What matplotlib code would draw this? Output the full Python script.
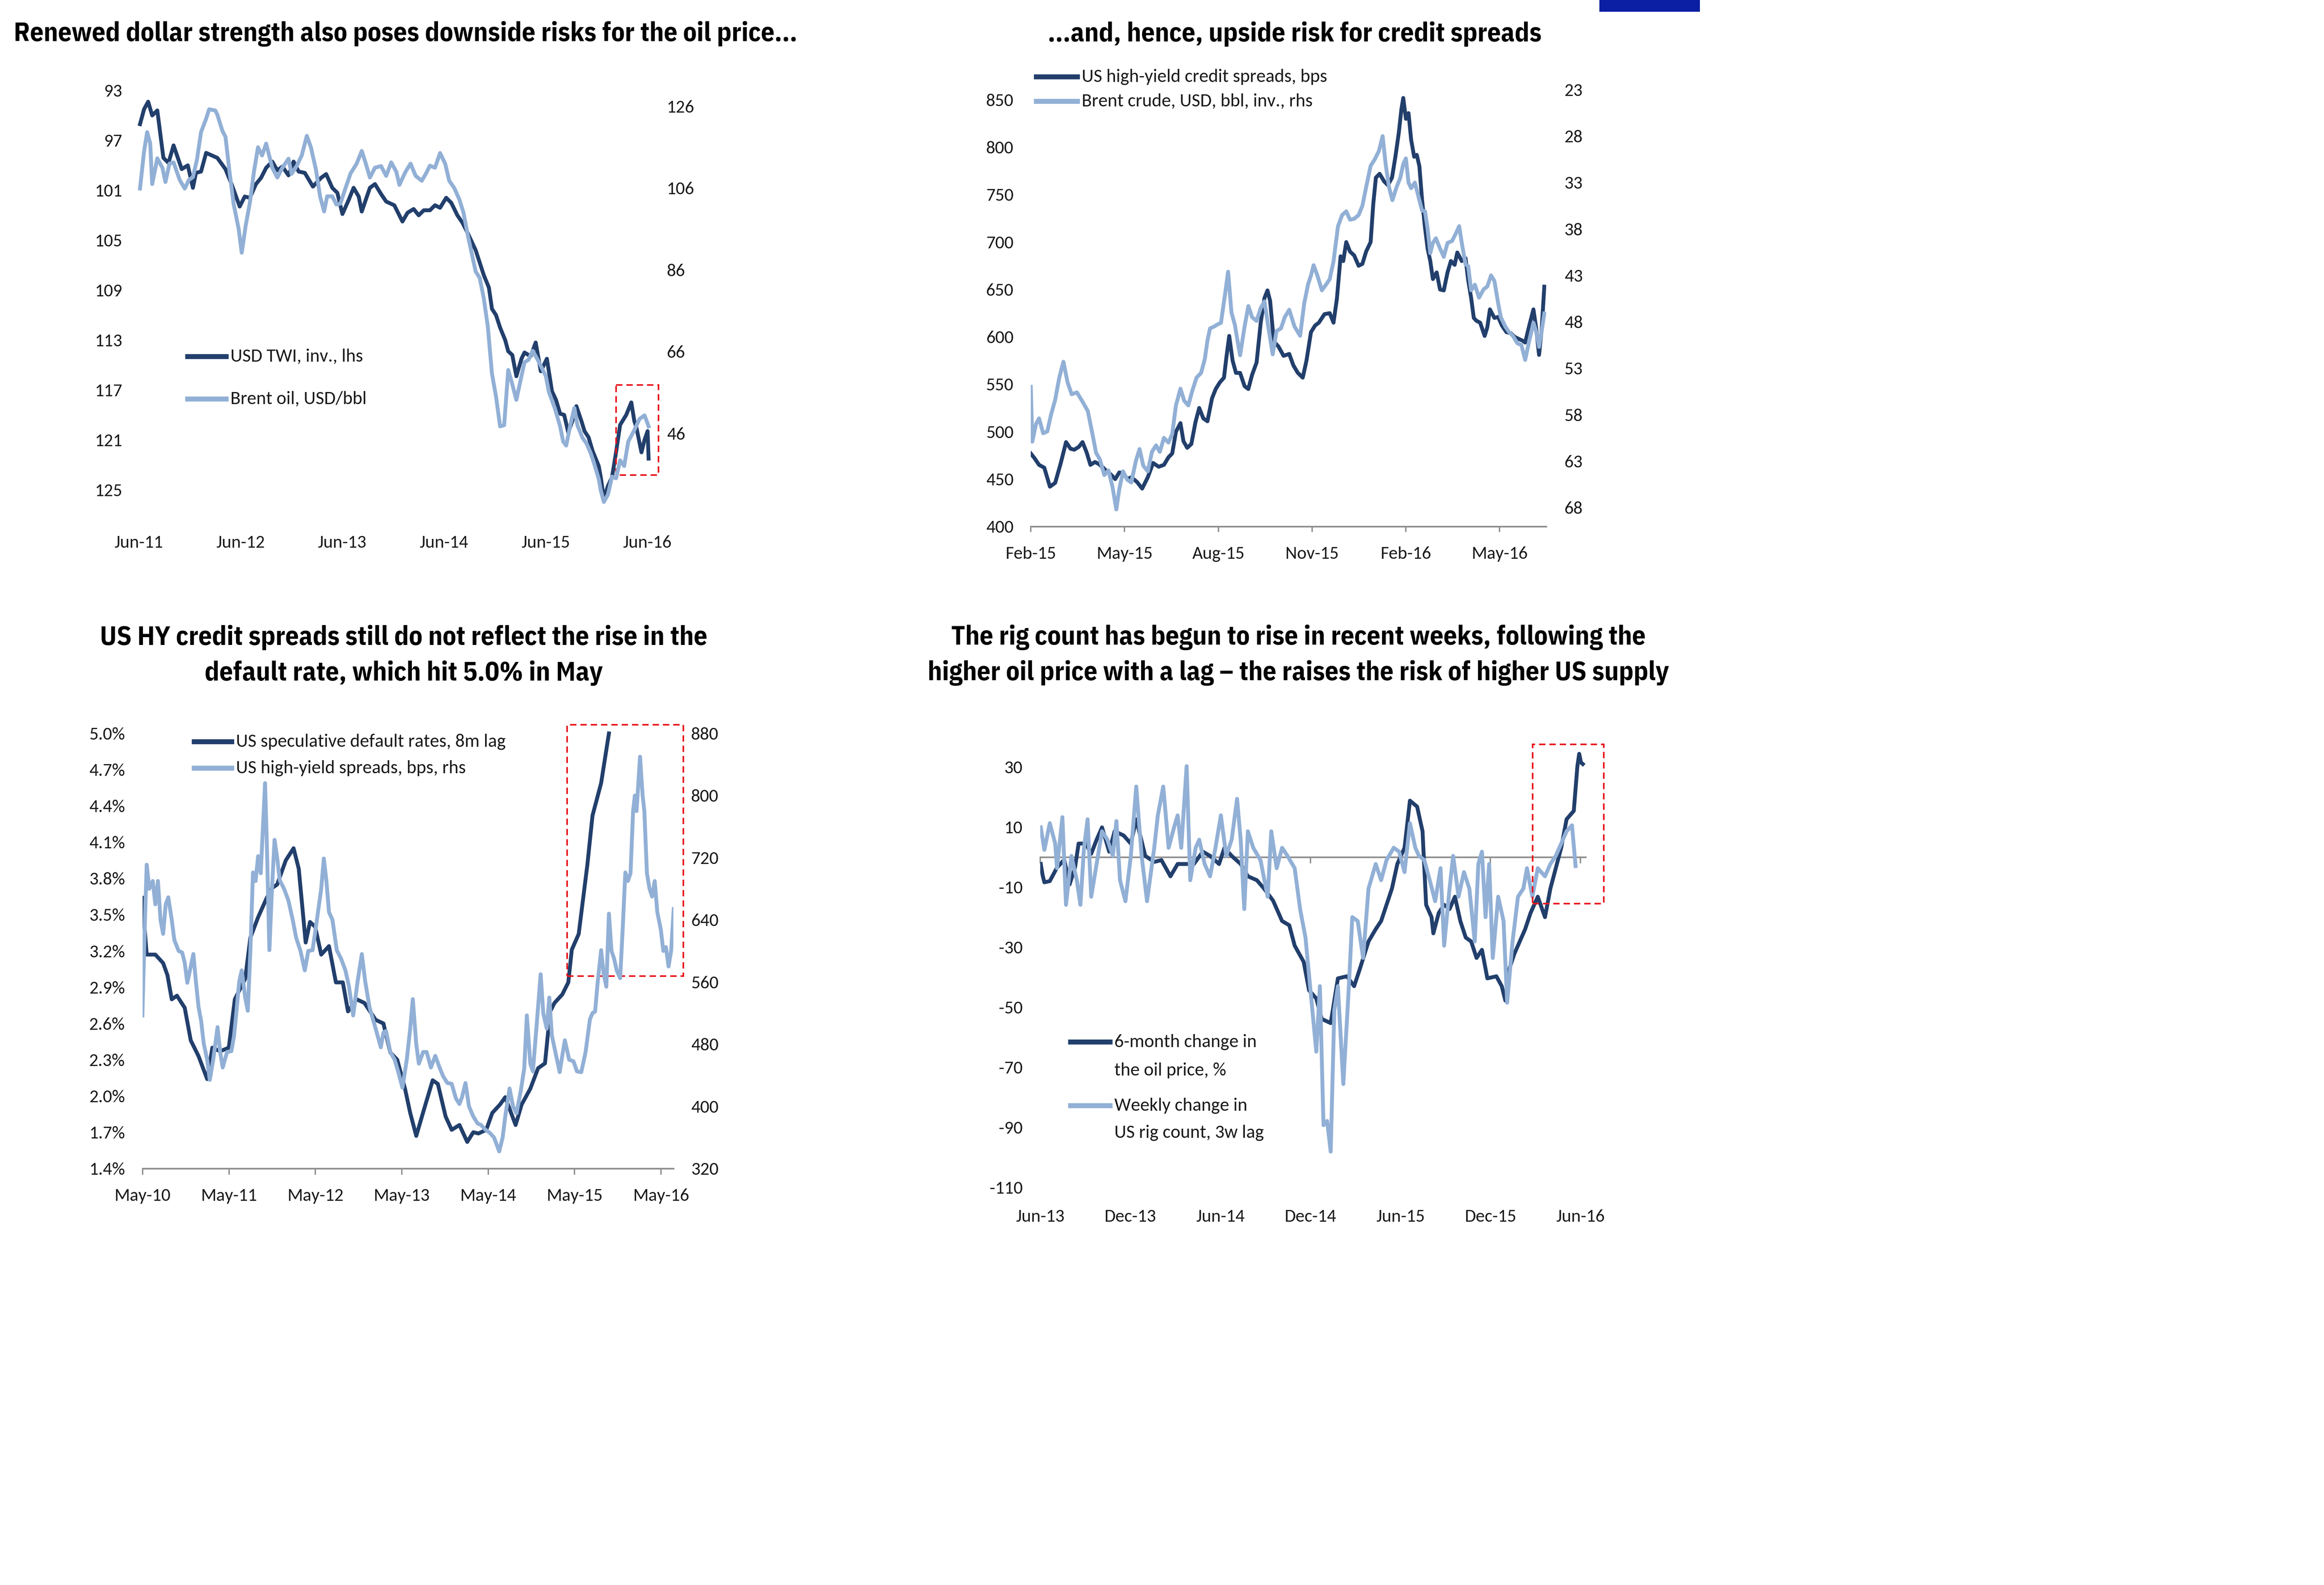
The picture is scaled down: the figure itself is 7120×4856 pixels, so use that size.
"""Four-panel oil / dollar / credit chart rebuilt with matplotlib."""
import matplotlib
matplotlib.use("Agg")
import matplotlib.pyplot as plt
from matplotlib import font_manager as fm
from matplotlib.patches import Rectangle
from matplotlib.lines import Line2D
from matplotlib.ticker import FixedLocator, FixedFormatter

# ---------------------------------------------------------------- data
# time axis is in decimal years

# panel 1: USD TWI (inverted, lhs) and Brent (rhs)
twi_t = [2011.43, 2011.47, 2011.51, 2011.55, 2011.60, 2011.66, 2011.71, 2011.76, 2011.84, 2011.90,
         2011.95, 2011.98, 2012.03, 2012.08, 2012.19, 2012.27, 2012.33, 2012.41, 2012.46, 2012.51,
         2012.57, 2012.62, 2012.67, 2012.73, 2012.78, 2012.83, 2012.89, 2012.94, 2012.99, 2013.05,
         2013.13, 2013.21, 2013.26, 2013.32, 2013.37, 2013.42, 2013.48, 2013.53, 2013.58, 2013.61,
         2013.69, 2013.74, 2013.80, 2013.85, 2013.93, 2014.01, 2014.06, 2014.12, 2014.17, 2014.22,
         2014.28, 2014.33, 2014.38, 2014.44, 2014.49, 2014.55, 2014.60, 2014.65, 2014.73, 2014.77,
         2014.81, 2014.86, 2014.89, 2014.93, 2014.97, 2015.02, 2015.05, 2015.09, 2015.13, 2015.18,
         2015.21, 2015.27, 2015.32, 2015.37, 2015.43, 2015.48, 2015.52, 2015.56, 2015.60, 2015.64,
         2015.68, 2015.72, 2015.77, 2015.80, 2015.84, 2015.88, 2015.94, 2015.96, 2015.99, 2016.03,
         2016.07, 2016.11, 2016.15, 2016.21, 2016.26, 2016.29, 2016.31, 2016.36, 2016.39, 2016.42,
         2016.43]
twi_v = [95.7, 94.5, 93.9, 95.0, 94.6, 98.4, 98.8, 97.4, 99.3, 99.0,
         100.8, 99.6, 99.5, 98.0, 98.4, 99.3, 100.5, 102.3, 101.5, 101.6,
         100.5, 100.0, 99.2, 98.7, 99.4, 99.1, 99.8, 98.7, 99.5, 99.6,
         100.7, 100.0, 99.7, 100.8, 101.2, 102.9, 101.8, 100.8, 101.5, 102.7,
         100.8, 100.5, 101.3, 101.9, 102.2, 103.5, 102.8, 102.5, 103.0, 102.6,
         102.6, 102.2, 102.4, 101.6, 102.0, 103.0, 103.6, 104.4, 105.8, 106.8,
         107.8, 108.8, 110.5, 111.0, 112.0, 113.0, 113.9, 114.2, 115.9, 114.5,
         114.0, 114.3, 113.2, 115.5, 114.5, 117.1, 117.8, 118.9, 119.0, 120.4,
         119.5, 118.3, 119.5, 120.3, 120.8, 121.9, 123.1, 124.0, 125.7, 124.7,
         124.0, 122.0, 119.8, 119.0, 118.0, 119.5, 120.0, 122.0, 121.0, 120.3,
         122.5]

brent1_t = [2011.43, 2011.47, 2011.50, 2011.53, 2011.55, 2011.60, 2011.65, 2011.68, 2011.72, 2011.76,
            2011.82, 2011.87, 2011.91, 2011.95, 2011.99, 2012.03, 2012.08, 2012.11, 2012.17, 2012.19,
            2012.24, 2012.27, 2012.31, 2012.35, 2012.40, 2012.43, 2012.47, 2012.51, 2012.55, 2012.59,
            2012.63, 2012.67, 2012.73, 2012.78, 2012.83, 2012.89, 2012.92, 2012.97, 2013.02, 2013.07,
            2013.11, 2013.16, 2013.20, 2013.24, 2013.27, 2013.32, 2013.36, 2013.40, 2013.45, 2013.50,
            2013.56, 2013.61, 2013.65, 2013.69, 2013.74, 2013.80, 2013.85, 2013.90, 2013.95, 2013.98,
            2014.04, 2014.09, 2014.14, 2014.20, 2014.24, 2014.28, 2014.33, 2014.38, 2014.43, 2014.47,
            2014.52, 2014.57, 2014.61, 2014.65, 2014.70, 2014.73, 2014.77, 2014.81, 2014.85, 2014.89,
            2014.93, 2014.97, 2015.01, 2015.05, 2015.09, 2015.13, 2015.18, 2015.21, 2015.25, 2015.29,
            2015.34, 2015.37, 2015.42, 2015.45, 2015.51, 2015.56, 2015.59, 2015.62, 2015.66, 2015.70,
            2015.73, 2015.78, 2015.82, 2015.86, 2015.89, 2015.94, 2015.96, 2015.99, 2016.03, 2016.07,
            2016.11, 2016.15, 2016.19, 2016.23, 2016.29, 2016.34, 2016.39, 2016.43]
brent1_v = [105.9, 115.0, 119.7, 117.0, 107.0, 113.3, 111.0, 107.5, 112.0, 112.3,
            108.0, 105.9, 108.0, 108.7, 113.0, 119.7, 123.0, 125.3, 125.0, 124.0,
            120.0, 118.6, 110.0, 102.2, 96.0, 90.2, 97.0, 102.4, 110.0, 116.0,
            114.0, 116.9, 111.0, 108.6, 111.0, 113.2, 109.5, 111.4, 114.0, 118.8,
            116.0, 110.5, 104.0, 100.3, 104.0, 104.0, 102.0, 102.2, 106.0, 109.6,
            112.0, 115.1, 112.0, 108.6, 111.0, 111.4, 109.0, 112.3, 110.0, 106.8,
            110.0, 112.0, 109.0, 107.8, 109.5, 111.5, 111.0, 114.6, 112.0, 107.8,
            106.0, 103.2, 100.0, 94.8, 89.0, 85.6, 84.0, 79.0, 72.0, 60.6,
            55.0, 47.7, 48.0, 61.5, 58.0, 54.2, 60.0, 63.4, 64.0, 66.2,
            64.0, 62.5, 60.0, 56.1, 52.0, 47.7, 44.0, 43.0, 48.0, 52.2,
            48.0, 44.9, 43.5, 41.2, 39.0, 34.8, 32.0, 29.2, 31.0, 35.4,
            35.0, 39.4, 38.0, 44.0, 46.8, 49.5, 50.4, 47.7]

# panel 2: US HY spreads (lhs) and Brent inverted (rhs)
hy2_t = [2015.083, 2015.093, 2015.105, 2015.119, 2015.134, 2015.148, 2015.163, 2015.177, 2015.189, 2015.199,
         2015.211, 2015.221, 2015.232, 2015.242, 2015.254, 2015.264, 2015.276, 2015.286, 2015.296, 2015.308,
         2015.319, 2015.329, 2015.341, 2015.351, 2015.366, 2015.380, 2015.395, 2015.409, 2015.424, 2015.438,
         2015.450, 2015.460, 2015.470, 2015.482, 2015.490, 2015.500, 2015.511, 2015.522, 2015.532, 2015.543,
         2015.554, 2015.566, 2015.576, 2015.587, 2015.598, 2015.605, 2015.612, 2015.621, 2015.630, 2015.641,
         2015.653, 2015.663, 2015.673, 2015.685, 2015.696, 2015.706, 2015.714, 2015.721, 2015.731, 2015.743,
         2015.757, 2015.772, 2015.783, 2015.795, 2015.808, 2015.818, 2015.830, 2015.841, 2015.851, 2015.866,
         2015.880, 2015.890, 2015.899, 2015.909, 2015.916, 2015.924, 2015.934, 2015.945, 2015.957, 2015.967,
         2015.977, 2015.989, 2015.996, 2016.003, 2016.013, 2016.025, 2016.035, 2016.046, 2016.055, 2016.064,
         2016.071, 2016.076, 2016.083, 2016.090, 2016.097, 2016.105, 2016.112, 2016.119, 2016.126, 2016.134,
         2016.141, 2016.148, 2016.155, 2016.165, 2016.174, 2016.184, 2016.194, 2016.203, 2016.213, 2016.220,
         2016.232, 2016.242, 2016.249, 2016.257, 2016.264, 2016.271, 2016.281, 2016.293, 2016.300, 2016.307,
         2016.319, 2016.329, 2016.339, 2016.351, 2016.362, 2016.373, 2016.383, 2016.394, 2016.401, 2016.412,
         2016.423, 2016.430, 2016.438, 2016.445, 2016.452]
hy2_v = [477, 472, 465, 462, 442, 446, 467, 489, 482, 481,
         484, 489, 478, 465, 468, 466, 462, 458, 455, 450,
         457, 456, 450, 452, 447, 440, 452, 467, 463, 465,
         473, 477, 500, 509, 490, 483, 487, 510, 525, 514,
         511, 535, 545, 552, 557, 580, 601, 575, 562, 562,
         548, 545, 560, 573, 615, 641, 649, 638, 595, 590,
         580, 582, 570, 562, 557, 575, 605, 612, 615, 624,
         625, 615, 640, 685, 680, 700, 690, 686, 675, 677,
         690, 700, 740, 768, 772, 764, 760, 768, 790, 815,
         840, 852, 830, 836, 808, 790, 792, 780, 745, 715,
         693, 680, 661, 668, 650, 649, 668, 680, 676, 689,
         680, 683, 660, 641, 620, 617, 615, 601, 610, 629,
         620, 621, 612, 605, 604, 600, 598, 596, 594, 612,
         629, 610, 581, 608, 653]

brent2_t = [2015.083, 2015.087, 2015.097, 2015.105, 2015.116, 2015.127, 2015.137, 2015.148, 2015.159, 2015.170,
            2015.181, 2015.192, 2015.206, 2015.221, 2015.235, 2015.247, 2015.257, 2015.267, 2015.279, 2015.290,
            2015.301, 2015.311, 2015.319, 2015.329, 2015.340, 2015.351, 2015.363, 2015.373, 2015.383, 2015.395,
            2015.406, 2015.417, 2015.427, 2015.438, 2015.450, 2015.460, 2015.470, 2015.482, 2015.492, 2015.503,
            2015.513, 2015.525, 2015.537, 2015.547, 2015.554, 2015.561, 2015.572, 2015.580, 2015.590, 2015.601,
            2015.609, 2015.618, 2015.627, 2015.634, 2015.641, 2015.653, 2015.663, 2015.673, 2015.685, 2015.696,
            2015.706, 2015.716, 2015.728, 2015.738, 2015.750, 2015.760, 2015.772, 2015.786, 2015.801, 2015.812,
            2015.822, 2015.830, 2015.837, 2015.847, 2015.859, 2015.870, 2015.880, 2015.890, 2015.902, 2015.913,
            2015.924, 2015.934, 2015.945, 2015.957, 2015.967, 2015.977, 2015.989, 2016.000, 2016.011, 2016.021,
            2016.029, 2016.038, 2016.047, 2016.058, 2016.068, 2016.076, 2016.083, 2016.090, 2016.097, 2016.107,
            2016.119, 2016.126, 2016.134, 2016.141, 2016.148, 2016.155, 2016.163, 2016.173, 2016.184, 2016.194,
            2016.206, 2016.216, 2016.225, 2016.232, 2016.242, 2016.249, 2016.257, 2016.267, 2016.278, 2016.290,
            2016.300, 2016.310, 2016.319, 2016.329, 2016.336, 2016.348, 2016.358, 2016.368, 2016.380, 2016.391,
            2016.401, 2016.412, 2016.423, 2016.430, 2016.438, 2016.445, 2016.452]
brent2_v = [55.0, 60.9, 59.0, 58.4, 60.0, 59.8, 58.0, 56.4, 54.0, 52.3,
            54.5, 55.8, 55.6, 56.6, 57.6, 60.0, 62.1, 62.8, 64.5, 64.0,
            65.8, 68.2, 66.0, 64.1, 65.0, 65.3, 63.0, 61.7, 63.5, 64.1,
            62.0, 61.3, 62.0, 60.5, 61.0, 60.1, 57.0, 55.2, 56.5, 57.0,
            55.5, 54.0, 53.5, 52.0, 50.0, 48.7, 48.5, 48.3, 48.1, 45.0,
            42.6, 47.0, 48.3, 50.0, 51.6, 48.5, 46.3, 47.5, 47.9, 46.5,
            45.8, 48.5, 51.5, 49.0, 48.7, 47.5, 46.7, 48.5, 49.5, 46.0,
            44.0, 43.0, 41.9, 43.0, 44.6, 44.0, 43.4, 41.5, 37.7, 36.5,
            36.1, 37.0, 36.9, 36.5, 35.5, 33.5, 31.2, 30.5, 29.6, 28.0,
            31.0, 33.5, 34.9, 33.5, 32.5, 31.0, 30.4, 33.0, 33.6, 33.0,
            34.9, 36.0, 36.1, 38.0, 40.6, 39.5, 39.0, 40.0, 41.0, 39.5,
            39.3, 38.5, 37.7, 39.5, 41.8, 42.0, 44.6, 44.0, 45.4, 44.5,
            44.2, 43.0, 43.6, 46.0, 47.5, 48.5, 49.1, 49.5, 50.3, 50.5,
            52.1, 50.0, 48.1, 49.0, 50.7, 49.0, 47.1]

# panel 3: US speculative default rate, 8m lag (lhs, %) and US HY spreads (rhs, bps)
dflt_t = [2010.33, 2010.35, 2010.38, 2010.48, 2010.57, 2010.62, 2010.67, 2010.73, 2010.82, 2010.89,
          2010.98, 2011.08, 2011.14, 2011.23, 2011.33, 2011.40, 2011.52, 2011.58, 2011.67, 2011.77,
          2011.83, 2011.89, 2011.99, 2012.08, 2012.14, 2012.22, 2012.27, 2012.33, 2012.40, 2012.49,
          2012.57, 2012.65, 2012.71, 2012.81, 2012.90, 2013.03, 2013.12, 2013.20, 2013.28, 2013.37,
          2013.43, 2013.50, 2013.59, 2013.69, 2013.75, 2013.84, 2013.91, 2014.00, 2014.09, 2014.16,
          2014.22, 2014.31, 2014.38, 2014.47, 2014.53, 2014.65, 2014.72, 2014.82, 2014.91, 2014.99,
          2015.05, 2015.10, 2015.19, 2015.26, 2015.30, 2015.38, 2015.48, 2015.54, 2015.64, 2015.73]
dflt_v = [3.64, 3.44, 3.17, 3.17, 3.10, 3.00, 2.80, 2.83, 2.73, 2.46,
          2.33, 2.14, 2.40, 2.37, 2.40, 2.80, 2.97, 3.31, 3.48, 3.64,
          3.72, 3.75, 3.95, 4.05, 3.88, 3.27, 3.44, 3.40, 3.17, 3.24,
          2.94, 2.94, 2.70, 2.80, 2.77, 2.63, 2.60, 2.36, 2.30, 2.06,
          1.86, 1.67, 1.89, 2.13, 2.10, 1.83, 1.72, 1.76, 1.62, 1.70,
          1.69, 1.72, 1.86, 1.93, 1.99, 1.76, 1.93, 2.06, 2.23, 2.27,
          2.70, 2.77, 2.84, 2.94, 3.21, 3.34, 3.91, 4.32, 4.59, 5.00]

hy3_t = [2010.33, 2010.36, 2010.38, 2010.41, 2010.45, 2010.48, 2010.51, 2010.54, 2010.57, 2010.60,
         2010.63, 2010.67, 2010.70, 2010.75, 2010.79, 2010.82, 2010.85, 2010.89, 2010.92, 2010.95,
         2010.98, 2011.01, 2011.04, 2011.08, 2011.11, 2011.15, 2011.20, 2011.23, 2011.26, 2011.31,
         2011.36, 2011.39, 2011.42, 2011.45, 2011.48, 2011.52, 2011.55, 2011.58, 2011.61, 2011.64,
         2011.67, 2011.70, 2011.75, 2011.77, 2011.80, 2011.83, 2011.86, 2011.89, 2011.92, 2011.97,
         2012.02, 2012.07, 2012.11, 2012.16, 2012.21, 2012.25, 2012.30, 2012.35, 2012.40, 2012.43,
         2012.46, 2012.49, 2012.53, 2012.58, 2012.63, 2012.68, 2012.72, 2012.77, 2012.82, 2012.87,
         2012.91, 2012.96, 2013.03, 2013.09, 2013.12, 2013.15, 2013.20, 2013.25, 2013.29, 2013.34,
         2013.39, 2013.43, 2013.46, 2013.50, 2013.53, 2013.58, 2013.62, 2013.67, 2013.72, 2013.77,
         2013.81, 2013.86, 2013.91, 2013.96, 2014.00, 2014.03, 2014.07, 2014.11, 2014.16, 2014.21,
         2014.25, 2014.30, 2014.35, 2014.40, 2014.46, 2014.50, 2014.53, 2014.58, 2014.62, 2014.66,
         2014.71, 2014.75, 2014.78, 2014.82, 2014.85, 2014.89, 2014.94, 2014.97, 2015.01, 2015.04,
         2015.07, 2015.11, 2015.16, 2015.19, 2015.22, 2015.27, 2015.32, 2015.36, 2015.41, 2015.46,
         2015.51, 2015.54, 2015.57, 2015.60, 2015.64, 2015.67, 2015.70, 2015.73, 2015.76, 2015.79,
         2015.82, 2015.86, 2015.89, 2015.92, 2015.95, 2015.98, 2016.01, 2016.03, 2016.05, 2016.09,
         2016.12, 2016.14, 2016.17, 2016.20, 2016.23, 2016.26, 2016.29, 2016.33, 2016.36, 2016.39,
         2016.42, 2016.45, 2016.48]
hy3_v = [517, 640, 711, 680, 690, 660, 690, 640, 622, 660,
         669, 640, 614, 600, 598, 585, 559, 580, 596, 560,
         528, 510, 481, 460, 434, 460, 502, 470, 450, 470,
         471, 490, 523, 560, 575, 540, 523, 600, 701, 690,
         722, 700, 816, 740, 601, 680, 743, 720, 691, 680,
         665, 640, 617, 600, 575, 600, 601, 640, 680, 719,
         690, 650, 640, 601, 590, 575, 555, 517, 560, 596,
         560, 527, 500, 476, 495, 497, 470, 460, 445, 424,
         460, 500, 538, 480, 455, 470, 470, 450, 465, 450,
         439, 430, 429, 410, 403, 412, 430, 400, 387, 378,
         376, 370, 366, 360, 342, 360, 387, 423, 400, 391,
         420, 449, 517, 455, 445, 500, 570, 520, 500, 540,
         491, 470, 444, 465, 485, 460, 458, 445, 444, 470,
         512, 520, 522, 560, 601, 570, 554, 648, 600, 590,
         575, 565, 630, 701, 690, 700, 780, 800, 780, 850,
         800, 780, 700, 680, 670, 690, 650, 628, 600, 605,
         580, 600, 654]

# panel 4: 6-month change in oil price (%) and weekly change in US rig count, 3w lag
oil6m_t = [2013.42, 2013.43, 2013.44, 2013.47, 2013.51, 2013.55, 2013.58, 2013.61, 2013.63, 2013.67,
           2013.70, 2013.73, 2013.76, 2013.80, 2013.83, 2013.88, 2013.92, 2013.95, 2014.00, 2014.05,
           2014.09, 2014.14, 2014.18, 2014.23, 2014.27, 2014.32, 2014.36, 2014.41, 2014.44, 2014.48,
           2014.53, 2014.57, 2014.62, 2014.66, 2014.71, 2014.76, 2014.80, 2014.83, 2014.88, 2014.91,
           2014.95, 2014.98, 2015.03, 2015.07, 2015.12, 2015.16, 2015.19, 2015.24, 2015.28, 2015.31,
           2015.34, 2015.37, 2015.40, 2015.44, 2015.47, 2015.51, 2015.54, 2015.56, 2015.59, 2015.60,
           2015.63, 2015.66, 2015.69, 2015.72, 2015.75, 2015.78, 2015.81, 2015.84, 2015.87, 2015.90,
           2015.95, 2015.98, 2016.00, 2016.02, 2016.05, 2016.08, 2016.11, 2016.14, 2016.18, 2016.22,
           2016.25, 2016.28, 2016.31, 2016.34, 2016.38, 2016.40, 2016.41, 2016.42, 2016.43]
oil6m_v = [-2.3, -6.0, -8.4, -8.0, -3.5, -0.9, -9.1, -3.5, 4.5, 4.5,
           1.1, 5.8, 9.9, 1.8, 8.6, 7.2, 4.5, 12.6, 0.4, -1.6,
           -1.0, -6.4, -2.3, -2.3, -2.3, 1.8, 0.4, -2.3, 3.1, 0.4,
           -2.3, -6.4, -7.7, -10.5, -14.5, -21.3, -22.7, -29.5, -34.9, -44.4,
           -47.1, -53.9, -55.3, -40.4, -39.7, -43.0, -37.6, -28.1, -24.0, -21.3,
           -15.9, -10.5, -2.3, 3.1, 18.8, 16.8, 8.6, -15.9, -20.0, -25.4,
           -18.6, -15.9, -17.3, -13.2, -21.3, -26.8, -28.1, -33.6, -30.9, -40.4,
           -39.7, -43.0, -47.8, -37.6, -32.2, -28.1, -24.0, -18.6, -13.2, -20.0,
           -10.5, -3.7, 3.1, 12.6, 15.4, 30.3, 34.4, 31.5, 31.0]

rigs_t = [2013.42, 2013.44, 2013.47, 2013.50, 2013.51, 2013.54, 2013.56, 2013.59, 2013.62, 2013.64,
          2013.66, 2013.68, 2013.70, 2013.73, 2013.76, 2013.79, 2013.82, 2013.84, 2013.86, 2013.89,
          2013.92, 2013.95, 2013.98, 2014.01, 2014.05, 2014.07, 2014.10, 2014.13, 2014.16, 2014.18,
          2014.20, 2014.23, 2014.25, 2014.28, 2014.30, 2014.33, 2014.36, 2014.39, 2014.42, 2014.45,
          2014.48, 2014.51, 2014.53, 2014.55, 2014.57, 2014.60, 2014.64, 2014.68, 2014.70, 2014.73,
          2014.76, 2014.79, 2014.83, 2014.86, 2014.89, 2014.92, 2014.95, 2014.97, 2014.99, 2015.01,
          2015.03, 2015.05, 2015.07, 2015.10, 2015.13, 2015.15, 2015.18, 2015.21, 2015.24, 2015.28,
          2015.31, 2015.34, 2015.38, 2015.41, 2015.44, 2015.47, 2015.50, 2015.52, 2015.55, 2015.58,
          2015.61, 2015.64, 2015.66, 2015.69, 2015.71, 2015.74, 2015.77, 2015.80, 2015.83, 2015.85,
          2015.87, 2015.89, 2015.91, 2015.93, 2015.96, 2015.99, 2016.01, 2016.04, 2016.07, 2016.10,
          2016.12, 2016.15, 2016.18, 2016.22, 2016.25, 2016.28, 2016.31, 2016.34, 2016.37, 2016.39]
rigs_v = [9.9, 2.4, 11.3, 4.5, -3.7, 13.3, -15.9, 0.4, -7.7, -15.9,
          3.1, 12.6, -13.2, -2.3, 8.6, 5.8, 0.4, 12.0, -7.7, -14.7,
          0.4, 23.5, 0.4, -14.7, 3.1, 13.9, 23.5, 3.1, 9.9, 13.9,
          3.1, 30.3, -7.7, 3.1, 5.8, -2.3, -6.4, 3.1, 13.9, 0.4,
          5.8, 19.4, 5.8, -17.3, 8.6, 3.1, -1.0, -13.2, 8.6, -3.7,
          3.1, 0.4, -3.7, -17.3, -26.8, -45.8, -64.8, -43.0, -89.3, -87.9,
          -98.1, -51.0, -43.0, -75.6, -44.0, -20.0, -21.3, -33.6, -10.5, -2.3,
          -7.7, -1.0, 3.1, 1.8, -5.0, 11.3, 3.1, 0.4, -1.0, -7.7,
          -14.7, -3.7, -29.5, -10.5, 0.4, -13.2, -5.0, -10.5, -28.1, -2.3,
          1.8, -20.0, -2.3, -33.6, -13.2, -21.3, -48.5, -28.1, -13.2, -10.5,
          -3.7, -13.2, -3.7, -6.4, -2.3, 0.4, 4.5, 8.6, 10.6, -3.0]

# tick positions (decimal years) and labels
p1_xticks = [2011.417, 2012.417, 2013.417, 2014.417, 2015.417, 2016.417]
p1_xlabels = ["Jun-11", "Jun-12", "Jun-13", "Jun-14", "Jun-15", "Jun-16"]
p1_left = [93, 97, 101, 105, 109, 113, 117, 121, 125]
p1_right = [126, 106, 86, 66, 46, 26]

p2_xticks = [2015.083, 2015.333, 2015.583, 2015.833, 2016.083, 2016.333]
p2_xlabels = ["Feb-15", "May-15", "Aug-15", "Nov-15", "Feb-16", "May-16"]
p2_left = [400, 450, 500, 550, 600, 650, 700, 750, 800, 850]
p2_right = [23, 28, 33, 38, 43, 48, 53, 58, 63, 68]

p3_xticks = [2010.333, 2011.333, 2012.333, 2013.333, 2014.333, 2015.333, 2016.333]
p3_xlabels = ["May-10", "May-11", "May-12", "May-13", "May-14", "May-15", "May-16"]
p3_left = [1.4, 1.7, 2.0, 2.3, 2.6, 2.9, 3.2, 3.5, 3.8, 4.1, 4.4, 4.7, 5.0]
p3_right = [320, 400, 480, 560, 640, 720, 800, 880]

p4_xticks = [2013.417, 2013.917, 2014.417, 2014.917, 2015.417, 2015.917, 2016.417]
p4_xlabels = ["Jun-13", "Dec-13", "Jun-14", "Dec-14", "Jun-15", "Dec-15", "Jun-16"]
p4_left = [-110, -90, -70, -50, -30, -10, 10, 30]

# ---------------------------------------------------------------- style
DARK = "#223F6C"
LIGHT = "#92B0D6"
RED = "#E8141B"
GREY = "#8C8C8C"
TXT = "#1A1A1A"
W, H = 7120, 4856


def pick_font(cands):
    names = {f.name for f in fm.fontManager.ttflist}
    for c in cands:
        if c in names:
            return c
    return "DejaVu Sans"


BODY = pick_font(["Carlito", "Liberation Sans"])               # Calibri look-alike
HEAD = pick_font(["IBM Plex Sans Condensed", "Fira Sans Condensed",
                  "Barlow Semi Condensed", "Liberation Sans"])  # bold narrow titles
plt.rcParams["font.family"] = [BODY, "DejaVu Sans"]

TICK_FS = 40
LEG_FS = 41
TITLE_FS = 59
LW = 8.5


def fx(px):
    return px / W


def fy(py):
    return 1 - py / H


def add_ax(fig, x0, x1, y0, y1):
    # pixel box (left, right, top, bottom) -> figure axes
    ax = fig.add_axes([fx(x0), fy(y1), fx(x1 - x0), (y1 - y0) / H])
    for s in ax.spines.values():
        s.set_visible(False)
    ax.patch.set_alpha(0)
    return ax


def style_y(ax, ticks, fmt, side, pad):
    ax.yaxis.set_major_locator(FixedLocator(ticks))
    ax.yaxis.set_major_formatter(FixedFormatter([fmt(t) for t in ticks]))
    ax.tick_params(axis="y", length=0, pad=pad, labelsize=TICK_FS, labelcolor=TXT,
                   left=(side == "left"), right=(side == "right"),
                   labelleft=(side == "left"), labelright=(side == "right"))


def style_x(ax, ticks, labels, pad, length=0):
    ax.xaxis.set_major_locator(FixedLocator(ticks))
    ax.xaxis.set_major_formatter(FixedFormatter(labels))
    ax.tick_params(axis="x", length=length, width=3, color=GREY, direction="out",
                   pad=pad, labelsize=TICK_FS, labelcolor=TXT)


def title(fig, x, ys, lines, ha):
    for y, t in zip(ys, lines):
        fig.text(fx(x), fy(y), t, family=[HEAD, "DejaVu Sans"], fontsize=TITLE_FS,
                 fontweight="bold", ha=ha, va="center", color="black")


def legend(fig, x0, x1, rows):
    # rows: (y_px, colour, [text lines], line spacing px)
    for y, color, lines, step in rows:
        fig.add_artist(Line2D([fx(x0), fx(x1)], [fy(y), fy(y)], color=color, lw=11,
                              solid_capstyle="butt"))
        for i, t in enumerate(lines):
            fig.text(fx(x1 + 6), fy(y + i * step), t, fontsize=LEG_FS, color=TXT,
                     ha="left", va="center")


def red_box(ax, x0, x1, y0, y1):
    ax.add_patch(Rectangle((x0, y0), x1 - x0, y1 - y0, fill=False, ec=RED, lw=3.5,
                           ls=(0, (4, 2.5)), clip_on=False, zorder=10))


fig = plt.figure(figsize=(W / 100, H / 100), dpi=100)

# ---------------------------------------------------------------- panel 1
a1 = add_ax(fig, 404, 2024.5, 239, 1577)
a1.plot(twi_t, twi_v, color=DARK, lw=LW)
a1.set_xlim(2011.35, 2016.55)
a1.set_ylim(127, 92)
style_y(a1, p1_left, lambda v: f"{v:d}", "left", 21)
style_x(a1, p1_xticks, p1_xlabels, 45)
b1 = a1.twinx()
for s in b1.spines.values():
    s.set_visible(False)
b1.plot(brent1_t, brent1_v, color=LIGHT, lw=LW)
b1.set_ylim(26.08, 132.95)
style_y(b1, p1_right, lambda v: f"{v:d}", "right", 13)
red_box(a1, 2016.109, 2016.526, 116.6, 123.8)
title(fig, 42, [104], ["Renewed dollar strength also poses downside risks for the oil price..."], "left")
legend(fig, 567, 700, [(1092, DARK, ["USD TWI, inv., lhs"], 0),
                       (1222, LIGHT, ["Brent oil, USD/bbl"], 0)])

# ---------------------------------------------------------------- panel 2
a2 = add_ax(fig, 3158, 4737, 220, 1613)
a2.plot(hy2_t, hy2_v, color=DARK, lw=LW)
a2.set_xlim(2015.083, 2016.457)
a2.set_ylim(400, 879.6)
a2.spines["bottom"].set_visible(True)
a2.spines["bottom"].set_color(GREY)
a2.spines["bottom"].set_linewidth(3.5)
style_y(a2, p2_left, lambda v: f"{v:d}", "left", 38)
style_x(a2, p2_xticks, p2_xlabels, 32, length=12)
b2 = a2.twinx()
for s in b2.spines.values():
    s.set_visible(False)
b2.plot(brent2_t, brent2_v, color=LIGHT, lw=LW)
b2.set_ylim(70.04, 21.07)
style_y(b2, p2_right, lambda v: f"{v:d}", "right", 40)
title(fig, 3967, [104], ["...and, hence, upside risk for credit spreads"], "center")
legend(fig, 3167, 3308, [(235, DARK, ["US high-yield credit spreads, bps"], 0),
                         (310, LIGHT, ["Brent crude, USD, bbl, inv., rhs"], 0)])
# small blue block at the top edge of the page
fig.add_artist(Rectangle((fx(4900), fy(36)), fx(308), 36 / H, color="#0A1FA3", lw=0))

# ---------------------------------------------------------------- panel 3
a3 = add_ax(fig, 437, 2063, 2210, 3580)
a3.plot(dflt_t, dflt_v, color=DARK, lw=LW)
a3.set_xlim(2010.333, 2016.476)
a3.set_ylim(1.4, 5.1)
a3.spines["bottom"].set_visible(True)
a3.spines["bottom"].set_color(GREY)
a3.spines["bottom"].set_linewidth(3.5)
style_y(a3, p3_left, lambda v: f"{v:.1f}%", "left", 39)
style_x(a3, p3_xticks, p3_xlabels, 30, length=14)
b3 = a3.twinx()
for s in b3.spines.values():
    s.set_visible(False)
b3.plot(hy3_t, hy3_v, color=LIGHT, lw=LW)
b3.set_ylim(320, 895.5)
style_y(b3, p3_right, lambda v: f"{v:d}", "right", 39)
red_box(a3, 2015.244, 2016.589, 2.994, 5.073)
title(fig, 1237, [1953, 2062], ["US HY credit spreads still do not reflect the rise in the",
                                "default rate, which hit 5.0% in May"], "center")
legend(fig, 587, 717, [(2272, DARK, ["US speculative default rates, 8m lag"], 0),
                       (2353, LIGHT, ["US high-yield spreads, bps, rhs"], 0)])

# ---------------------------------------------------------------- panel 4
a4 = add_ax(fig, 3187, 4858, 2258, 3656)
a4.plot(oil6m_t, oil6m_v, color=DARK, lw=LW)
a4.plot(rigs_t, rigs_v, color=LIGHT, lw=LW)
a4.set_xlim(2013.417, 2016.446)
a4.set_ylim(-112, 40)
# zero line carries the tick marks, labels sit at the bottom
a4.spines["bottom"].set_visible(True)
a4.spines["bottom"].set_position(("data", 0))
a4.spines["bottom"].set_color(GREY)
a4.spines["bottom"].set_linewidth(3.5)
a4.spines["bottom"].set_zorder(0.5)
a4.xaxis.set_major_locator(FixedLocator(p4_xticks))
a4.tick_params(axis="x", length=14, width=3, color=GREY, direction="out", labelbottom=False)
s4 = a4.secondary_xaxis("bottom")
s4.spines["bottom"].set_visible(False)
s4.xaxis.set_major_locator(FixedLocator(p4_xticks))
s4.xaxis.set_major_formatter(FixedFormatter(p4_xlabels))
s4.tick_params(axis="x", length=0, pad=35, labelsize=TICK_FS, labelcolor=TXT)
style_y(a4, p4_left, lambda v: f"{v:d}", "left", 39)
red_box(a4, 2016.15, 2016.546, -15.4, 37.6)
title(fig, 3978, [1953, 2062],
      ["The rig count has begun to rise in recent weeks, following the",
       "higher oil price with a lag \u2013 the raises the risk of higher US supply"], "center")
legend(fig, 3272, 3408, [(3192, DARK, ["6-month change in", "the oil price, %"], 88),
                         (3387, LIGHT, ["Weekly change in", "US rig count, 3w lag"], 83)])

fig.savefig("out.png", dpi=100, facecolor="white")
